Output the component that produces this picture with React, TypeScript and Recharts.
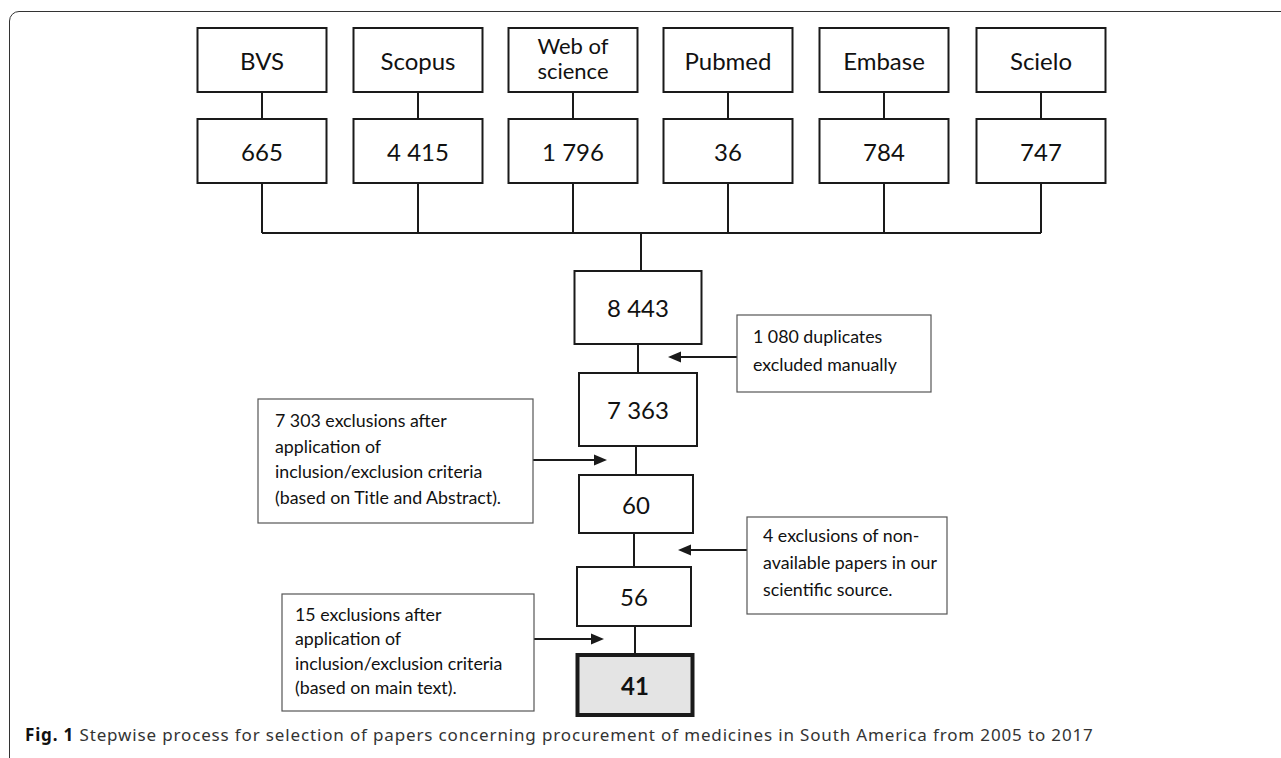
import { ScatterChart, Scatter, XAxis, YAxis, ReferenceLine } from 'recharts'

// database sources and the number of records found in each
const sources = ['BVS', 'Scopus', 'Web of\nscience', 'Pubmed', 'Embase', 'Scielo']
const sourceCounts = ['665', '4 415', '1 796', '36', '784', '747']

// records left after each step
const stepCounts = ['8 443', '7 363', '60', '56', '41']

// exclusion notes between the steps
const exclusionNotes = [
  ['1 080 duplicates', 'excluded manually'],
  ['7 303 exclusions after', 'application of', 'inclusion/exclusion criteria', '(based on Title and Abstract).'],
  ['4 exclusions of non-', 'available papers in our', 'scientific source.'],
  ['15 exclusions after', 'application of', 'inclusion/exclusion criteria', '(based on main text).'],
]

// layout in chart units (1 unit = 1px)
const sourceX = [262, 418, 573, 728, 884, 1041]
const sourceRowY = [60, 151]
const sourceW = 129
const sourceH = 64
const busY = 233
const stepX = [638, 638, 636, 634, 635]
const stepY = [307.5, 409.5, 504, 596.5, 685]
const stepW = [127, 118, 114, 114, 115]
const stepH = [73, 73, 58, 59, 60]
const noteX = [834, 395.5, 847, 408]
const noteY = [353.5, 461, 565.5, 652.5]
const noteW = [194, 275, 200, 252]
const noteH = [77, 124, 97, 117]
const notePad = [16, 17, 16, 13]
const noteFirst = [28, 28, 25, 27]
const noteLine = [28, 25.5, 27, 24.3]
const arrowFrom = [737, 533, 747, 534]
const arrowTo = [668, 607, 678, 604]
const arrowY = [357, 460, 550, 639]

const W = 1281
const H = 758
const FONT = 'Lato, "Open Sans", sans-serif'

type Node = {
  x: number; y: number; w: number; h: number; lines: string[]
  kind: 'main' | 'final' | 'note'; pad?: number; first?: number; lh?: number
}

const nodes: Node[] = [
  ...sources.map((s, i) => ({ x: sourceX[i], y: sourceRowY[0], w: sourceW, h: sourceH, lines: s.split('\n'), kind: 'main' as const })),
  ...sourceCounts.map((s, i) => ({ x: sourceX[i], y: sourceRowY[1], w: sourceW, h: sourceH, lines: [s], kind: 'main' as const })),
  ...stepCounts.map((s, i) => ({
    x: stepX[i], y: stepY[i], w: stepW[i], h: stepH[i], lines: [s],
    kind: (i === stepCounts.length - 1 ? 'final' : 'main') as 'final' | 'main',
  })),
  ...exclusionNotes.map((l, i) => ({
    x: noteX[i], y: noteY[i], w: noteW[i], h: noteH[i], lines: l, kind: 'note' as const,
    pad: notePad[i], first: noteFirst[i], lh: noteLine[i],
  })),
]

const BoxShape = (props: any) => {
  const { cx, cy, payload } = props
  const { w, h, lines, kind } = payload as Node
  const x0 = cx - w / 2
  const y0 = cy - h / 2
  if (kind === 'note') {
    const { pad = 16, first = 28, lh = 26 } = payload as Node
    return (
      <g>
        <rect x={x0} y={y0} width={w} height={h} fill="#fff" stroke="#555" strokeWidth={1.2} />
        {lines.map((t, i) => (
          <text key={i} x={x0 + pad} y={y0 + first + i * lh} fontFamily={FONT} fontSize={17.8} fill="#111">
            {t}
          </text>
        ))}
      </g>
    )
  }
  const isFinal = kind === 'final'
  const lh = 25
  const top = cy - ((lines.length - 1) * lh) / 2 - (lines.length > 1 ? 2.5 : 0)
  return (
    <g>
      <rect x={x0} y={y0} width={w} height={h} fill={isFinal ? '#e4e4e4' : '#fff'} stroke="#1a1a1a" strokeWidth={isFinal ? 4 : 2} />
      {lines.map((t, i) => (
        <text key={i} x={cx} y={top + i * lh} textAnchor="middle" dominantBaseline="central"
          fontFamily={FONT} fontSize={lines.length > 1 ? 22 : 24} fontWeight={isFinal ? 700 : 400} fill="#111">
          {t}
        </text>
      ))}
    </g>
  )
}

const ArrowShape = (props: any) => {
  const { x1, y1, x2, y2 } = props
  const dir = x2 > x1 ? 1 : -1
  const head = 13
  return (
    <g>
      <line x1={x1} y1={y1} x2={x2 - dir * head} y2={y2} stroke="#1a1a1a" strokeWidth={2} />
      <polygon points={`${x2},${y2} ${x2 - dir * head},${y2 - 5.5} ${x2 - dir * head},${y2 + 5.5}`} fill="#1a1a1a" />
    </g>
  )
}

const seg = (x1: number, y1: number, x2: number, y2: number) => [{ x: x1, y: y1 }, { x: x2, y: y2 }]

const connectors = [
  ...sourceX.map(x => seg(x, sourceRowY[0] + sourceH / 2, x, sourceRowY[1] - sourceH / 2)),
  ...sourceX.map(x => seg(x, sourceRowY[1] + sourceH / 2, x, busY)),
  seg(sourceX[0], busY, sourceX[sourceX.length - 1], busY),
  seg(stepX[0] + 3, busY, stepX[0] + 3, stepY[0] - stepH[0] / 2),
  ...stepY.slice(1).map((y, i) => seg(stepX[i + 1], stepY[i] + stepH[i] / 2, stepX[i + 1], y - stepH[i + 1] / 2)),
]

export default function App() {
  return (
    <div style={{ position: 'absolute', left: 0, top: 0, width: W, height: H, overflow: 'hidden', background: '#fff' }}>
      <div style={{
        position: 'absolute', left: 9, top: 11, width: 1320, height: 800,
        border: '1.5px solid #333', borderTopLeftRadius: 10,
      }} />
      <div style={{ position: 'absolute', left: 0, top: 0 }}>
        <ScatterChart width={W} height={H} margin={{ top: 0, right: 0, bottom: 0, left: 0 }}>
          <XAxis type="number" dataKey="x" domain={[0, W]} allowDataOverflow hide />
          <YAxis type="number" dataKey="y" domain={[0, H]} allowDataOverflow reversed hide />
          {connectors.map((s, i) => (
            <ReferenceLine key={i} segment={s} stroke="#1a1a1a" strokeWidth={2} ifOverflow="visible" />
          ))}
          {arrowFrom.map((x, i) => (
            <ReferenceLine key={'a' + i} segment={seg(x, arrowY[i], arrowTo[i], arrowY[i])} shape={ArrowShape} ifOverflow="visible" />
          ))}
          <Scatter data={nodes} shape={BoxShape} isAnimationActive={false} />
        </ScatterChart>
      </div>
      <div style={{
        position: 'absolute', left: 25, top: 725, fontFamily: '"Noto Sans", sans-serif',
        fontSize: 17, letterSpacing: 0.85, lineHeight: '20px', color: '#333', whiteSpace: 'nowrap',
      }}>
        <b style={{ color: '#111' }}>Fig. 1</b> Stepwise process for selection of papers concerning procurement of medicines in South America from 2005 to 2017
      </div>
    </div>
  )
}
